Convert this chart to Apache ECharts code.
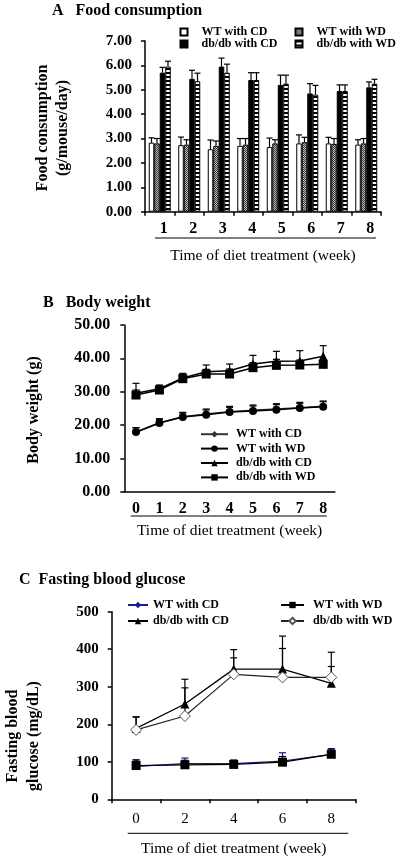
<!DOCTYPE html>
<html><head><meta charset="utf-8">
<script src="https://cdn.jsdelivr.net/npm/echarts@6/dist/echarts.min.js"></script>
<style>html,body{margin:0;padding:0;background:#fff}#c{width:400px;height:860px}</style>
</head><body><div id="c"></div>
<script>
// ---------- data ----------
const weeksA = ['1','2','3','4','5','6','7','8'];
const foodWTCD = [2.83,2.73,2.56,2.70,2.65,2.80,2.80,2.75];
const foodWTCDErr = [0.20,0.33,0.38,0.30,0.37,0.35,0.25,0.20];
const foodWTWD = [2.80,2.75,2.70,2.75,2.80,2.85,2.78,2.80];
const foodWTWDErr = [0.20,0.20,0.20,0.25,0.15,0.20,0.22,0.20];
const foodDbCD = [5.70,5.45,5.95,5.40,5.20,4.85,4.95,5.10];
const foodDbCDErr = [0.22,0.35,0.35,0.30,0.40,0.40,0.25,0.22];
const foodDbWD = [5.95,5.35,5.70,5.40,5.25,4.80,4.95,5.25];
const foodDbWDErr = [0.22,0.33,0.35,0.30,0.35,0.38,0.25,0.18];

const weeksB = ['0','1','2','3','4','5','6','7','8'];
const bwWTCD = [17.8,20.7,22.5,23.3,24.0,24.4,24.8,25.2,25.6];
const bwWTCDErr = [1.4,1.2,1.3,1.5,1.6,1.6,1.6,1.6,1.6];
const bwWTWD = [17.9,20.6,22.4,23.1,23.9,24.2,24.6,25.1,25.5];
const bwWTWDErr = [1.3,1.1,1.2,1.4,1.4,1.5,1.5,1.4,1.5];
const bwDbCD = [29.5,30.9,34.1,36.0,36.3,38.3,39.1,39.2,40.6];
const bwDbCDErr = [3.0,1.1,1.4,2.0,2.0,2.6,3.0,3.1,3.2];
const bwDbWD = [29.0,30.5,33.9,35.3,35.3,37.2,37.9,38.0,38.2];
const bwDbWDErr = [1.5,1.3,1.3,1.4,1.5,1.5,1.8,1.5,1.3];

const weeksC = ['0','2','4','6','8'];
const gluWTCD = [88,95,95,102,120];
const gluWTCDErr = [17,15,10,22,15];
const gluWTWD = [90,92,93,99,120];
const gluWTWDErr = [15,12,8,15,14];
const gluDbCD = [189,254,347,347,309];
const gluDbCDErr = [30,66,52,88,45];
const gluDbWD = [185,222,333,325,325];
const gluDbWDErr = [35,75,44,77,67];

const seriesNames = ['WT with CD','WT with WD','db/db with CD','db/db with WD'];
const titleA = 'A   Food consumption';
const titleB = 'B   Body weight';
const titleC = 'C  Fasting blood glucose';
const xTitle = 'Time of diet treatment (week)';

// ---------- styling helpers ----------
const SERIF = "'Liberation Serif','Times New Roman',serif";
function pattern(w, h, draw) {
  const c = document.createElement('canvas'); c.width = w; c.height = h;
  draw(c.getContext('2d')); return { image: c, repeat: 'repeat' };
}
const grayPat = pattern(2, 2, g => { g.fillStyle = '#bdbdbd'; g.fillRect(0,0,2,2); g.fillStyle = '#3a3a3a'; g.fillRect(0,0,1,1); g.fillRect(1,1,1,1); });
const dotPat = pattern(1, 4, g => { g.fillStyle = '#fff'; g.fillRect(0,0,1,4); g.fillStyle = '#000'; g.fillRect(0,0,1,2); });

function zip(vals, errs) { return vals.map((v, i) => [i, v, errs[i]]); }
function errSeries(name, xi, yi, vals, errs, dx, cw, color) {
  return {
    name: name, type: 'custom', xAxisIndex: xi, yAxisIndex: yi, z: 5, silent: true,
    data: zip(vals, errs),
    renderItem: function (params, api) {
      const x = api.value(0), y = api.value(1), e = api.value(2);
      const p0 = api.coord([x, y]), p1 = api.coord([x, y + e]);
      const cx = p0[0] + dx;
      const st = { stroke: color, lineWidth: 1.2 };
      return { type: 'group', children: [
        { type: 'line', shape: { x1: cx, y1: p0[1], x2: cx, y2: p1[1] }, style: st },
        { type: 'line', shape: { x1: cx - cw, y1: p1[1], x2: cx + cw, y2: p1[1] }, style: st }
      ]};
    }
  };
}
const axisLineStyle = { show: true, lineStyle: { color: '#000', width: 1.5 } };
const boldTick = (size) => ({ color: '#000', fontFamily: SERIF, fontWeight: 'bold', fontSize: size });
const nm = (p, s) => p + '|' + s;
const fmtName = n => n.split('|')[1];

const BW = 5.5;
const barCfg = (name, vals, fill, border) => ({
  name: name, type: 'bar', xAxisIndex: 0, yAxisIndex: 0, data: vals, barWidth: BW, barGap: '0%',
  itemStyle: { color: fill, borderColor: border, borderWidth: 1 }
});

const legendText = (size, padLeft, lh) => ({ fontFamily: SERIF, fontWeight: 'bold', fontSize: size, color: '#000', lineHeight: lh, padding: [0, 0, 0, padLeft] });

const option = {
  animation: false,
  backgroundColor: '#fff',
  grid: [
    { left: 145, top: 41, width: 236, height: 170.7 },
    { left: 124.3, top: 325, width: 210.6, height: 166.7 },
    { left: 111.7, top: 611.7, width: 244, height: 187.6 }
  ],
  xAxis: [
    { gridIndex: 0, type: 'category', data: weeksA, boundaryGap: true, axisLine: axisLineStyle,
      axisTick: { show: true, length: 4, lineStyle: { color: '#000', width: 1.5 } },
      axisLabel: Object.assign(boldTick(16), { margin: 9, padding: [0, 0, 0, 8] }),
      name: xTitle, nameLocation: 'middle', nameGap: 36,
      nameTextStyle: { fontFamily: SERIF, fontSize: 15.5, color: '#000' } },
    { gridIndex: 1, type: 'category', data: weeksB, boundaryGap: true, axisLine: axisLineStyle,
      axisTick: { show: false },
      axisLabel: Object.assign(boldTick(16), { margin: 9 }),
      name: xTitle, nameLocation: 'middle', nameGap: 31,
      nameTextStyle: { fontFamily: SERIF, fontSize: 15.5, color: '#000' } },
    { gridIndex: 2, type: 'category', data: weeksC, boundaryGap: true, axisLine: axisLineStyle,
      axisTick: { show: true, length: 4, lineStyle: { color: '#000', width: 1.5 } },
      axisLabel: { color: '#000', fontFamily: SERIF, fontSize: 15, margin: 12 },
      name: xTitle, nameLocation: 'middle', nameGap: 42,
      nameTextStyle: { fontFamily: SERIF, fontSize: 15.5, color: '#000' } }
  ],
  yAxis: [
    { gridIndex: 0, type: 'value', min: 0, max: 7, interval: 1, axisLine: axisLineStyle,
      axisTick: { show: true, length: 4, lineStyle: { color: '#000', width: 1.5 } }, splitLine: { show: false },
      axisLabel: Object.assign(boldTick(15), { margin: 13, formatter: v => v.toFixed(2) }) },
    { gridIndex: 1, type: 'value', min: 0, max: 50, interval: 10, axisLine: axisLineStyle,
      axisTick: { show: true, length: 4, lineStyle: { color: '#000', width: 1.5 } }, splitLine: { show: false },
      axisLabel: Object.assign(boldTick(16), { margin: 14, formatter: v => v.toFixed(2) }) },
    { gridIndex: 2, type: 'value', min: 0, max: 500, interval: 100, axisLine: axisLineStyle,
      axisTick: { show: true, length: 4, lineStyle: { color: '#000', width: 1.5 } }, splitLine: { show: false },
      axisLabel: Object.assign(boldTick(15), { margin: 13 }) }
  ],
  legend: [
    { data: [nm('A', seriesNames[0]), nm('A', seriesNames[2])], orient: 'vertical', left: 179.5, top: 26, padding: 0, itemGap: 0,
      icon: 'rect', itemWidth: 7, itemHeight: 7, formatter: fmtName, textStyle: legendText(12, 9, 12) },
    { data: [nm('A', seriesNames[1]), nm('A', seriesNames[3])], orient: 'vertical', left: 294.5, top: 26, padding: 0, itemGap: 0,
      icon: 'rect', itemWidth: 7, itemHeight: 7, formatter: fmtName, textStyle: legendText(12, 9, 12) },
    { data: seriesNames.map(s => nm('B', s)), orient: 'vertical', left: 200, top: 427, padding: 0, itemGap: 0,
      itemWidth: 27, itemHeight: 8, formatter: fmtName, textStyle: legendText(12, 3, 14.4) },
    { data: [nm('C', seriesNames[0]), nm('C', seriesNames[2])], orient: 'vertical', left: 127, top: 597, padding: 0, itemGap: 0,
      itemWidth: 20, itemHeight: 8, formatter: fmtName, textStyle: legendText(12, 0, 16) },
    { data: [nm('C', seriesNames[1]), nm('C', seriesNames[3])], orient: 'vertical', left: 280, top: 597, padding: 0, itemGap: 0,
      itemWidth: 23, itemHeight: 8, formatter: fmtName, textStyle: legendText(12, 4, 16) }
  ],
  graphic: [
    { type: 'text', left: 52, top: 3, style: { text: titleA, font: 'bold 16px ' + SERIF, fill: '#000' } },
    { type: 'text', left: 43, top: 295, style: { text: titleB, font: 'bold 16px ' + SERIF, fill: '#000' } },
    { type: 'text', left: 19, top: 572, style: { text: titleC, font: 'bold 16px ' + SERIF, fill: '#000' } },
    { type: 'text', x: 43, y: 128, rotation: Math.PI / 2, style: { text: 'Food consumption', font: 'bold 16px ' + SERIF, fill: '#000', textAlign: 'center', textVerticalAlign: 'middle' } },
    { type: 'text', x: 63, y: 128, rotation: Math.PI / 2, style: { text: '(g/mouse/day)', font: 'bold 16px ' + SERIF, fill: '#000', textAlign: 'center', textVerticalAlign: 'middle' } },
    { type: 'text', x: 34, y: 410, rotation: Math.PI / 2, style: { text: 'Body weight (g)', font: 'bold 16px ' + SERIF, fill: '#000', textAlign: 'center', textVerticalAlign: 'middle' } },
    { type: 'text', x: 13, y: 736, rotation: Math.PI / 2, style: { text: 'Fasting blood', font: 'bold 16px ' + SERIF, fill: '#000', textAlign: 'center', textVerticalAlign: 'middle' } },
    { type: 'text', x: 34, y: 736, rotation: Math.PI / 2, style: { text: 'glucose (mg/dL)', font: 'bold 16px ' + SERIF, fill: '#000', textAlign: 'center', textVerticalAlign: 'middle' } },
    { type: 'line', shape: { x1: 155, y1: 238, x2: 376, y2: 238 }, style: { stroke: '#000', lineWidth: 1 } },
    { type: 'line', shape: { x1: 130.7, y1: 516, x2: 326.7, y2: 516 }, style: { stroke: '#000', lineWidth: 1 } },
    { type: 'line', shape: { x1: 127.7, y1: 833.3, x2: 348.3, y2: 833.3 }, style: { stroke: '#000', lineWidth: 1 } }
  ],
  series: [
    // Panel A bars
    barCfg(nm('A', seriesNames[0]), foodWTCD, '#fff', '#000'),
    barCfg(nm('A', seriesNames[1]), foodWTWD, grayPat, '#000'),
    barCfg(nm('A', seriesNames[2]), foodDbCD, '#000', '#000'),
    barCfg(nm('A', seriesNames[3]), foodDbWD, dotPat, '#000'),
    errSeries('eA0', 0, 0, foodWTCD, foodWTCDErr, -1.5 * BW, 3, '#000'),
    errSeries('eA1', 0, 0, foodWTWD, foodWTWDErr, -0.5 * BW, 3, '#000'),
    errSeries('eA2', 0, 0, foodDbCD, foodDbCDErr, 0.5 * BW, 3, '#000'),
    errSeries('eA3', 0, 0, foodDbWD, foodDbWDErr, 1.5 * BW, 3, '#000'),
    // Panel B lines
    errSeries('eB0', 1, 1, bwWTCD, bwWTCDErr, 0, 3.5, '#000'),
    errSeries('eB1', 1, 1, bwWTWD, bwWTWDErr, 0, 3.5, '#000'),
    errSeries('eB2', 1, 1, bwDbCD, bwDbCDErr, 0, 3.5, '#000'),
    errSeries('eB3', 1, 1, bwDbWD, bwDbWDErr, 0, 3.5, '#000'),
    { name: nm('B', seriesNames[0]), type: 'line', xAxisIndex: 1, yAxisIndex: 1, data: bwWTCD, symbol: 'diamond', symbolSize: 7,
      itemStyle: { color: '#333' }, lineStyle: { color: '#333', width: 1.5 }, z: 6 },
    { name: nm('B', seriesNames[1]), type: 'line', xAxisIndex: 1, yAxisIndex: 1, data: bwWTWD, symbol: 'circle', symbolSize: 8,
      itemStyle: { color: '#000' }, lineStyle: { color: '#000', width: 1.5 }, z: 6 },
    { name: nm('B', seriesNames[2]), type: 'line', xAxisIndex: 1, yAxisIndex: 1, data: bwDbCD, symbol: 'triangle', symbolSize: 9,
      itemStyle: { color: '#000' }, lineStyle: { color: '#000', width: 1.5 }, z: 6 },
    { name: nm('B', seriesNames[3]), type: 'line', xAxisIndex: 1, yAxisIndex: 1, data: bwDbWD, symbol: 'rect', symbolSize: 9,
      itemStyle: { color: '#000' }, lineStyle: { color: '#000', width: 1.5 }, z: 6 },
    // Panel C lines
    errSeries('eC0', 2, 2, gluWTCD, gluWTCDErr, 0, 3.5, '#1c1c8c'),
    errSeries('eC1', 2, 2, gluWTWD, gluWTWDErr, 0, 3.5, '#000'),
    errSeries('eC2', 2, 2, gluDbCD, gluDbCDErr, 0, 3.5, '#000'),
    errSeries('eC3', 2, 2, gluDbWD, gluDbWDErr, 0, 3.5, '#000'),
    { name: nm('C', seriesNames[0]), type: 'line', xAxisIndex: 2, yAxisIndex: 2, data: gluWTCD, symbol: 'diamond', symbolSize: 7,
      itemStyle: { color: '#1c1c8c' }, lineStyle: { color: '#1c1c8c', width: 1.3 }, z: 6 },
    { name: nm('C', seriesNames[1]), type: 'line', xAxisIndex: 2, yAxisIndex: 2, data: gluWTWD, symbol: 'rect', symbolSize: 9,
      itemStyle: { color: '#000' }, lineStyle: { color: '#000', width: 1.3 }, z: 6 },
    { name: nm('C', seriesNames[2]), type: 'line', xAxisIndex: 2, yAxisIndex: 2, data: gluDbCD, symbol: 'triangle', symbolSize: 9,
      itemStyle: { color: '#000' }, lineStyle: { color: '#000', width: 1.3 }, z: 6 },
    { name: nm('C', seriesNames[3]), type: 'line', xAxisIndex: 2, yAxisIndex: 2, data: gluDbWD, symbol: 'diamond', symbolSize: 11,
      itemStyle: { color: '#fff', borderColor: '#555', borderWidth: 1 }, lineStyle: { color: '#222', width: 1.1 }, z: 6 }
  ]
};
const chart = echarts.init(document.getElementById('c'), null, { renderer: 'canvas' });
chart.setOption(option);
</script></body></html>
